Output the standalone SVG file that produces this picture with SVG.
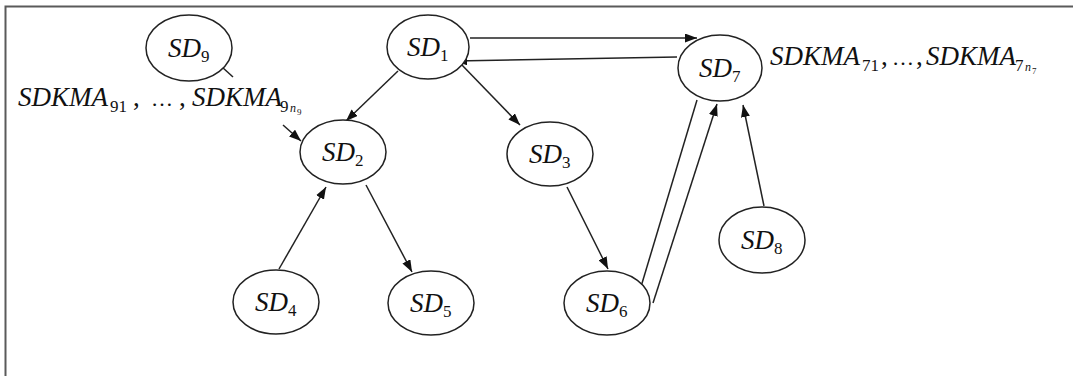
<svg xmlns="http://www.w3.org/2000/svg" width="1073" height="376" viewBox="0 0 1073 376">
<style>
.frame{fill:none;stroke:#5a5a5a;stroke-width:2}
.node ellipse{fill:#fff;stroke:#222;stroke-width:1.5}
.lbl{font-family:"Liberation Serif","DejaVu Serif","Times New Roman",serif;font-style:italic;font-size:27px;fill:#111}
.sub{font-style:normal;font-size:17px}
.subi{font-style:italic;font-size:12px}
.subs{font-style:normal;font-size:9px}
.plain{font-style:normal}
.ell{font-style:normal;font-size:22px}
.edge{stroke:#222;stroke-width:1.5;fill:none}
.arr{marker-end:url(#ah)}
</style>
<defs>
<marker id="ah" markerUnits="userSpaceOnUse" markerWidth="13" markerHeight="9" refX="12" refY="4.5" orient="auto" viewBox="0 0 13 9">
<path d="M0,0 L12,4.5 L0,9 z" fill="#111"/>
</marker>
</defs>
<rect x="0" y="0" width="1073" height="376" fill="#fff"/>
<rect class="frame" x="5.5" y="6.5" width="1100" height="400"/>
<g id="connectors">
<line class="edge arr" x1="470" y1="38" x2="697" y2="38"/>
<line class="edge arr" x1="677" y1="57" x2="455" y2="61"/>
<line class="edge arr" x1="398" y1="71" x2="346" y2="121"/>
<line class="edge arr" x1="460" y1="63" x2="520" y2="125"/>
<line class="edge arr" x1="567" y1="187" x2="608" y2="269"/>
<line class="edge arr" x1="279" y1="269" x2="326" y2="187"/>
<line class="edge arr" x1="366" y1="185" x2="412" y2="272"/>
<line class="edge arr" x1="697" y1="100" x2="637" y2="300"/>
<line class="edge arr" x1="653" y1="303" x2="717" y2="104"/>
<line class="edge arr" x1="764" y1="206" x2="743" y2="105"/>
<line class="edge arr" x1="283" y1="125" x2="301" y2="141"/>
<line class="edge" x1="222" y1="67" x2="233" y2="77"/>
</g>
<g id="SD9" class="node"><ellipse cx="189" cy="48" rx="43" ry="33"/><text class="lbl" x="168" y="57">SD<tspan class="sub" dy="5">9</tspan></text></g>
<g id="SD1" class="node"><ellipse cx="428" cy="47" rx="41" ry="32"/><text class="lbl" x="407" y="56">SD<tspan class="sub" dy="5">1</tspan></text></g>
<g id="SD7" class="node"><ellipse cx="720" cy="68" rx="42" ry="33"/><text class="lbl" x="699" y="77">SD<tspan class="sub" dy="5">7</tspan></text></g>
<g id="SD2" class="node"><ellipse cx="343" cy="152" rx="43" ry="32"/><text class="lbl" x="322" y="161">SD<tspan class="sub" dy="5">2</tspan></text></g>
<g id="SD3" class="node"><ellipse cx="550" cy="154" rx="43" ry="32"/><text class="lbl" x="529" y="163">SD<tspan class="sub" dy="5">3</tspan></text></g>
<g id="SD8" class="node"><ellipse cx="762" cy="240" rx="43" ry="33"/><text class="lbl" x="741" y="249">SD<tspan class="sub" dy="5">8</tspan></text></g>
<g id="SD4" class="node"><ellipse cx="276" cy="302" rx="43" ry="32"/><text class="lbl" x="255" y="311">SD<tspan class="sub" dy="5">4</tspan></text></g>
<g id="SD5" class="node"><ellipse cx="431" cy="303" rx="43" ry="32"/><text class="lbl" x="410" y="312">SD<tspan class="sub" dy="5">5</tspan></text></g>
<g id="SD6" class="node"><ellipse cx="607" cy="303" rx="43" ry="32"/><text class="lbl" x="586" y="312">SD<tspan class="sub" dy="5">6</tspan></text></g>
<g id="label9">
<text class="lbl" y="106"><tspan x="18">SDKMA</tspan><tspan class="sub" x="110" y="112">91</tspan><tspan class="plain" x="133" y="106">,</tspan><tspan class="ell" x="151" y="106">…</tspan><tspan class="plain" x="179" y="106">,</tspan><tspan x="192" y="106">SDKMA</tspan><tspan class="sub" x="280" y="112">9</tspan><tspan class="subi" x="290" y="112">n</tspan><tspan class="subs" x="297" y="115">9</tspan></text>
</g>
<g id="label7">
<text class="lbl" y="65"><tspan x="770">SDKMA</tspan><tspan class="sub" x="862" y="71">71</tspan><tspan class="plain" x="881" y="65">,</tspan><tspan class="ell" x="892" y="65">…</tspan><tspan class="plain" x="916" y="65">,</tspan><tspan x="926" y="65">SDKMA</tspan><tspan class="sub" x="1015" y="71">7</tspan><tspan class="subi" x="1025" y="71">n</tspan><tspan class="subs" x="1032" y="74">7</tspan></text>
</g>
</svg>
